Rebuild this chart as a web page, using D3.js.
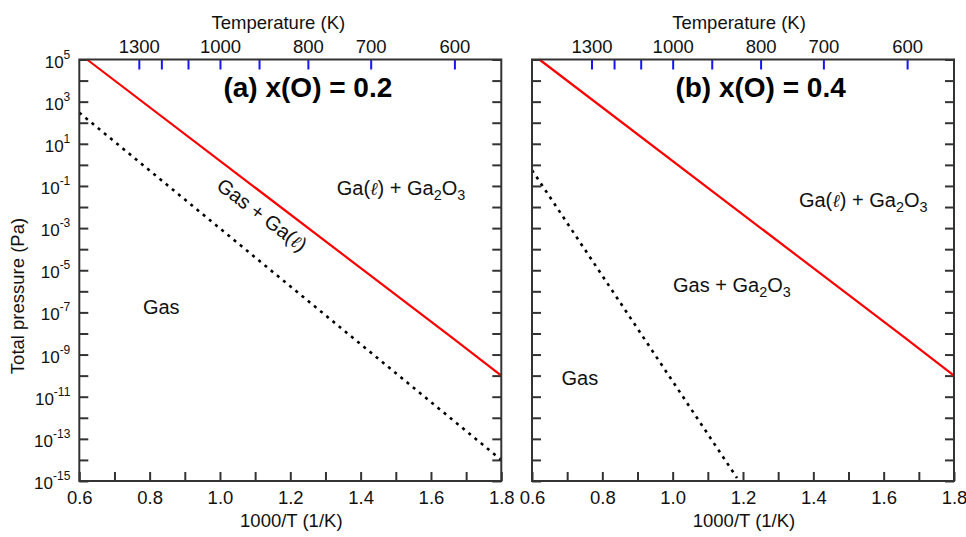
<!DOCTYPE html>
<html>
<head>
<meta charset="utf-8">
<script src="https://cdn.jsdelivr.net/npm/d3@7"></script>
<style>
  html, body { margin: 0; padding: 0; background: #fff; }
  svg { display: block; font-family: "Liberation Sans", Arial, sans-serif; }
</style>
</head>
<body>
<svg id="chart" width="966" height="537"></svg>
<script>
// Inverse temperature axis (1000/T, 1/K)
const invTTicks = [0.6, 0.7, 0.8, 0.9, 1.0, 1.1, 1.2, 1.3, 1.4, 1.5, 1.6, 1.7, 1.8];
const invTLabels = [0.6, 0.8, 1.0, 1.2, 1.4, 1.6, 1.8];
// Temperature axis along the top (K)
const tempTicks = [1300, 1200, 1100, 1000, 900, 800, 700, 600];
const tempLabels = [1300, 1000, 800, 700, 600];
// Pressure decades (Pa), labelled every second decade
const pressureExps = d3.range(-15, 6);
const pressureLabelExps = [5, 3, 1, -1, -3, -5, -7, -9, -11, -13, -15];

// Phase boundaries, panel (a) x(O) = 0.2
const aSolidInvT = [0.622, 1.66, 1.8];
const aSolidP = [1e5, 6.3e-9, 1e-10];
const aDotInvT = [0.6, 1.8];
const aDotP = [3e2, 1e-14];
// Phase boundaries, panel (b) x(O) = 0.4
const bSolidInvT = [0.621, 1.66, 1.8];
const bSolidP = [1e5, 6.3e-9, 1e-10];
const bDotInvT = [0.6, 1.183];
const bDotP = [5.6e-1, 1.4e-15];

const svg = d3.select("#chart");
const plotW = 422, plotH = 421.5, plotTop = 59.5;
const panels = [
  {
    left: 79.3, title: "(a) x(O) = 0.2", yLabels: true, tempTitleShift: -12,
    solid: { x: aSolidInvT, p: aSolidP }, dot: { x: aDotInvT, p: aDotP },
    regions: [
      { parts: [["Ga("], ["ℓ", "it"], [") + Ga"], ["2", "sub"], ["O"], ["3", "sub"]], x: 1.332, p: Math.pow(10, -1.43) },
      { parts: [["Gas"]], x: 0.781, p: Math.pow(10, -7.07) }
    ],
    rotated: { parts: [["Gas + Ga("], ["ℓ", "it"], [")"]], x: 1.12, p: Math.pow(10, -2.37), angle: 37 }
  },
  {
    left: 532, title: "(b) x(O) = 0.4", yLabels: false, tempTitleShift: -4,
    solid: { x: bSolidInvT, p: bSolidP }, dot: { x: bDotInvT, p: bDotP },
    regions: [
      { parts: [["Ga("], ["ℓ", "it"], [") + Ga"], ["2", "sub"], ["O"], ["3", "sub"]], x: 1.359, p: Math.pow(10, -2.0) },
      { parts: [["Gas + Ga"], ["2", "sub"], ["O"], ["3", "sub"]], x: 1.001, p: Math.pow(10, -6.01) },
      { parts: [["Gas"]], x: 0.684, p: Math.pow(10, -10.44) }
    ]
  }
];

function addParts(text, parts) {
  let shifted = false;
  parts.forEach(([s, kind]) => {
    const t = text.append("tspan").text(s);
    if (kind === "sub") {
      t.attr("font-size", "0.72em").attr("dy", shifted ? 0 : 5);
      shifted = true;
    } else {
      if (shifted) { t.attr("dy", -5); shifted = false; }
      if (kind === "it") t.attr("font-style", "italic").attr("font-family", "DejaVu Serif, serif").attr("font-size", "0.9em");
    }
  });
}

panels.forEach(pn => {
  const g = svg.append("g").attr("transform", `translate(${pn.left},${plotTop})`);
  const x = d3.scaleLinear().domain([0.6, 1.8]).range([0, plotW]);
  const y = d3.scaleLog().domain([1e-15, 1e5]).range([plotH, 0]);

  // bottom ticks and labels
  const bottom = g.append("g").attr("transform", `translate(0,${plotH})`)
    .call(d3.axisBottom(x).tickValues(invTTicks).tickSizeInner(-9).tickSizeOuter(0).tickPadding(10)
      .tickFormat(d => invTLabels.some(v => Math.abs(v - d) < 1e-9) ? d3.format(".1f")(d) : ""));
  bottom.select(".domain").remove();
  bottom.selectAll("line").attr("stroke", "#333").attr("stroke-width", 2);
  bottom.selectAll("text").attr("font-size", 18.5).attr("fill", "#111")
    .attr("font-family", "Liberation Sans, Arial, sans-serif");

  // left and right decade ticks
  const yTickVals = pressureExps.map(e => Math.pow(10, e));
  [["left", 0], ["right", plotW]].forEach(([side, pos]) => {
    const ax = (side === "left" ? d3.axisLeft(y) : d3.axisRight(y))
      .tickValues(yTickVals).tickSizeInner(-9).tickSizeOuter(0).tickFormat("");
    const ga = g.append("g").attr("transform", `translate(${pos},0)`).call(ax);
    ga.select(".domain").remove();
    ga.selectAll("line").attr("stroke", "#333").attr("stroke-width", 2);
  });

  // pressure labels as powers of ten
  if (pn.yLabels) {
    const lab = g.append("g").attr("font-size", 17).attr("fill", "#111").attr("text-anchor", "end");
    pressureLabelExps.forEach(e => {
      const t = lab.append("text").attr("x", -9).attr("y", y(Math.pow(10, e)) + 8);
      t.append("tspan").text("10");
      t.append("tspan").text(String(e)).attr("font-size", 12).attr("dy", -9);
    });
  }

  // temperature ticks along the top
  const topAx = g.append("g")
    .call(d3.axisTop(x).tickValues(tempTicks.map(T => 1000 / T)).tickSizeInner(-10).tickSizeOuter(0).tickPadding(7)
      .tickFormat(d => { const T = Math.round(1000 / d); return tempLabels.includes(T) ? T : ""; }));
  topAx.select(".domain").remove();
  topAx.selectAll("line").attr("stroke", "#1515ff").attr("stroke-width", 2);
  topAx.selectAll("text").attr("font-size", 18.5).attr("fill", "#111")
    .attr("font-family", "Liberation Sans, Arial, sans-serif");

  // axis titles
  g.append("text").attr("x", plotW / 2 + pn.tempTitleShift).attr("y", -31)
    .attr("text-anchor", "middle").attr("font-size", 18.5).attr("fill", "#111").text("Temperature (K)");
  g.append("text").attr("x", plotW / 2 + 1).attr("y", plotH + 46)
    .attr("text-anchor", "middle").attr("font-size", 18.5).attr("fill", "#111").text("1000/T (1/K)");

  // boundary lines
  const line = d3.line().x(d => x(d[0])).y(d => y(d[1]));
  g.append("path").datum(pn.dot.x.map((v, i) => [v, pn.dot.p[i]])).attr("d", line)
    .attr("fill", "none").attr("stroke", "#000").attr("stroke-width", 2.6).attr("stroke-dasharray", "3,5");
  g.append("path").datum(pn.solid.x.map((v, i) => [v, pn.solid.p[i]])).attr("d", line)
    .attr("fill", "none").attr("stroke", "#ff0000").attr("stroke-width", 2.2);

  // frame
  g.append("rect").attr("width", plotW).attr("height", plotH)
    .attr("fill", "none").attr("stroke", "#333").attr("stroke-width", 2);

  // panel title
  g.append("text").attr("x", x(1.25)).attr("y", y(Math.pow(10, 3.2)))
    .attr("text-anchor", "middle").attr("font-size", 28).attr("font-weight", "bold").attr("fill", "#000")
    .text(pn.title);

  // region labels
  pn.regions.forEach(r => {
    const t = g.append("text").attr("x", x(r.x)).attr("y", y(r.p)).attr("font-size", 20).attr("fill", "#111");
    addParts(t, r.parts);
  });
  if (pn.rotated) {
    const r = pn.rotated;
    const t = g.append("text").attr("font-size", 20).attr("fill", "#111").attr("text-anchor", "middle")
      .attr("transform", `translate(${x(r.x)},${y(r.p)}) rotate(${r.angle})`).attr("y", 7);
    addParts(t, r.parts);
  }
});

// shared y-axis title
svg.append("text").attr("transform", "translate(24,296) rotate(-90)")
  .attr("text-anchor", "middle").attr("font-size", 18.5).attr("fill", "#111").text("Total pressure (Pa)");
</script>
</body>
</html>
